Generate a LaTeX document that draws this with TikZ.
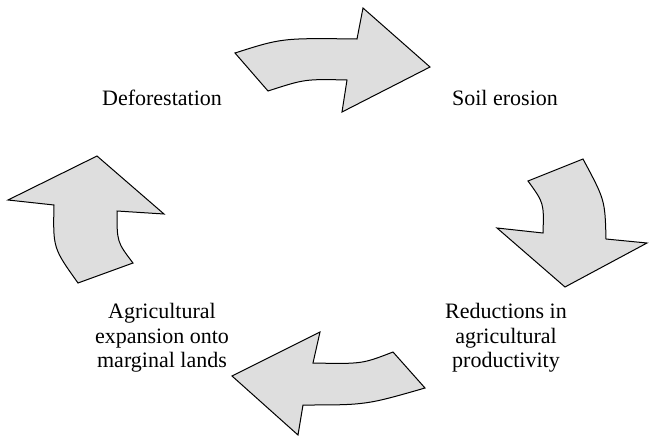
\documentclass[tikz,border=0pt]{standalone}
\usepackage{fontspec}
\setmainfont{Liberation Serif}
\usetikzlibrary{positioning}

\begin{document}
\begin{tikzpicture}[x=1pt,y=-1pt,
        blockarrow/.style={draw=black, fill=black!13, line width=1pt, line join=miter},
        cycletext/.style={font=\fontsize{22}{24.5}\selectfont, align=center, inner sep=0pt}]
        \useasboundingbox (0,0) rectangle (649,437);

        \node[cycletext] (defor) at (162,98) {Deforestation};
        \node[cycletext] (soil) at (505,98) {Soil erosion};
        \node[cycletext] (reduc) at (506,338) {Reductions in\\agricultural\\productivity};
        \node[cycletext] (agri) at (162,338) {Agricultural\\expansion onto\\marginal lands};

        \draw[blockarrow] (235,53) .. controls (282,38) .. (357,39) -- (363,8) -- (430,67)
            -- (342,112) -- (347,80) .. controls (305,79) .. (268,91) -- cycle;
        \draw[blockarrow] (528,181) -- (583,159) .. controls (605,200) .. (606,239) -- (647,243)
            -- (565,287) -- (497,228) -- (543,233) .. controls (544,203) .. (528,181) -- cycle;
        \draw[blockarrow] (393,352) -- (425,388) .. controls (366,405) .. (303,405) -- (298,435)
            -- (232,376) -- (320,332) -- (313,363) .. controls (362,364) .. (393,352) -- cycle;
        \draw[blockarrow] (78,283) -- (133,263) .. controls (117,242) .. (117,211) -- (164,214)
            -- (97,156) -- (8,200) -- (54,205) .. controls (53,248) .. (78,283) -- cycle;
\end{tikzpicture}
\end{document}
